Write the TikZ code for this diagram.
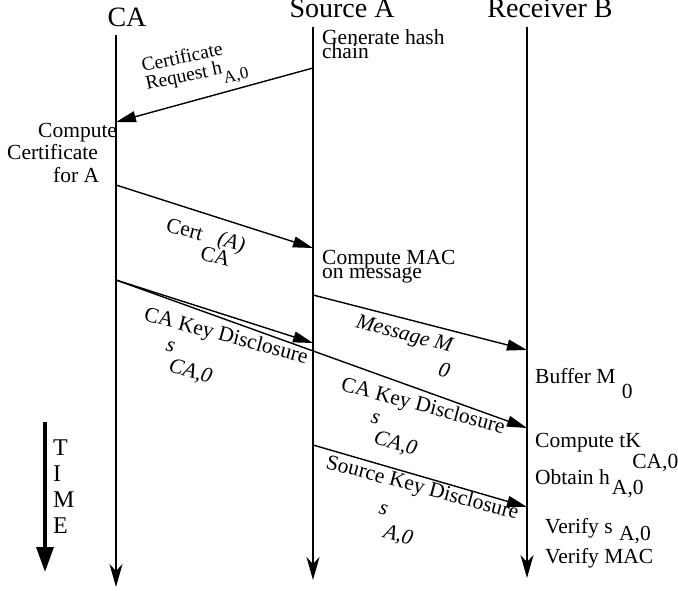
\documentclass[tikz,border=0pt]{standalone}
\usepackage{fontspec}
\setmainfont{Liberation Serif}
\usetikzlibrary{arrows.meta}
\newcommand{\dropped}[2][0.95em]{\raisebox{-#1}{#2}}

\begin{document}
\begin{tikzpicture}[x=1pt,y=-1pt,
    life/.style={line width=1.6pt,-{Stealth[length=23pt,width=13pt,inset=7pt]}},
    msg/.style={line width=1.4pt,-{Triangle[length=20pt,width=11pt]}},
    head/.style={font=\fontsize{28}{30}\selectfont,inner sep=0pt,anchor=base},
    txt/.style={font=\fontsize{21.5}{23}\selectfont,inner sep=0pt,anchor=base west},
    lbl/.style={txt,rotate=-15}]
    \useasboundingbox (0,0) rectangle (678,591);
    \node[head] (ca) at (127,27) {CA};
    \node[head] (src) at (342,18) {Source A};
    \node[head] (rcv) at (550,18) {Receiver B};
    \coordinate (ca-top) at (116,35);   \coordinate (ca-end) at (116,587);
    \coordinate (src-top) at (313,27);  \coordinate (src-end) at (313,580);
    \coordinate (rcv-top) at (527,27);  \coordinate (rcv-end) at (527,578);
    \foreach \l in {ca,src,rcv} {\draw[life] (\l-top) -- (\l-end);}
    \coordinate (src-req) at (313,68);   \coordinate (ca-req) at (116,122);
    \coordinate (ca-cert) at (116,185);  \coordinate (src-cert) at (313,248);
    \coordinate (ca-key) at (116,280);   \coordinate (src-key) at (313,343);
    \coordinate (rcv-key) at (527,428);
    \coordinate (src-msg) at (313,295);  \coordinate (rcv-msg) at (527,350);
    \coordinate (src-disc) at (313,445); \coordinate (rcv-disc) at (527,507);
    \draw[msg] (src-req) -- (ca-req);
    \draw[msg] (ca-cert) -- (src-cert);
    \draw[msg] (ca-key) -- (src-key);
    \draw[msg] (ca-key) -- (rcv-key);
    \draw[msg] (src-msg) -- (rcv-msg);
    \draw[msg] (src-disc) -- (rcv-disc);
    \node[txt,rotate=12,font=\fontsize{19.5}{21}\selectfont] (req-a) at (143,72) {Certificate};
    \node[txt,rotate=12,font=\fontsize{19.5}{21}\selectfont] (req-b) at (147,90) {Request h\dropped[0.5em]{\fontsize{17}{18}\selectfont A,0}};
    \node[lbl] (cert) at (165,231) {Cert\hspace{0.15em}\rlap{\dropped[0.85em]{CA}}\hspace{0.6em}\textit{(A)}};
    \node[lbl] (key-a) at (143,320) {CA Key Disclosure};
    \node[lbl] (key-as) at (165,350) {\textit{s\dropped{CA,0}}};
    \node[lbl] (key-b) at (340,390) {CA Key Disclosure};
    \node[lbl] (key-bs) at (370,422) {\textit{s\dropped{CA,0}}};
    \node[lbl] (mess) at (355,327) {\textit{Message M\hspace{-0.3em}\dropped[1.2em]{0}}};
    \node[lbl] (disc) at (325,468) {Source Key Disclosure};
    \node[lbl] (disc-s) at (378,513) {\textit{s\hspace{0.1em}\dropped[1.05em]{A,0}}};
    \node[txt] (gen-a) at (322,45) {Generate hash};
    \node[txt] (gen-b) at (322,59) {chain};
    \node[txt] (comp-a) at (38,138) {Compute};
    \node[txt] (comp-b) at (7,160) {Certificate};
    \node[txt] (comp-c) at (53,183) {for A};
    \node[txt] (mac-a) at (322,265) {Compute MAC};
    \node[txt] (mac-b) at (322,278) {on message};
    \node[txt] (buf) at (535,383) {Buffer M\hspace{0.3em}\dropped[0.7em]{0}};
    \node[txt] (tk) at (535,447) {Compute tK\hspace{-0.4em}\dropped[1em]{CA,0}};
    \node[txt] (obt) at (535,484) {Obtain h\hspace{0.1em}\dropped[0.5em]{A,0}};
    \node[txt] (ver-s) at (545,533) {Verify s\hspace{0.3em}\dropped[0.33em]{A,0}};
    \node[txt] (ver-m) at (545,563) {Verify MAC};
    \coordinate (time-top) at (45,422);  \coordinate (time-end) at (45,572);
    \draw[line width=3.4pt,-{Triangle[length=25pt,width=17pt]}] (time-top) -- (time-end);
    \foreach \c [count=\i from 0] in {T,I,M,E} {\node[txt,font=\fontsize{24}{24}\selectfont] (time-\c) at (53,{455+26*\i}) {\c};}
\end{tikzpicture}
\end{document}
